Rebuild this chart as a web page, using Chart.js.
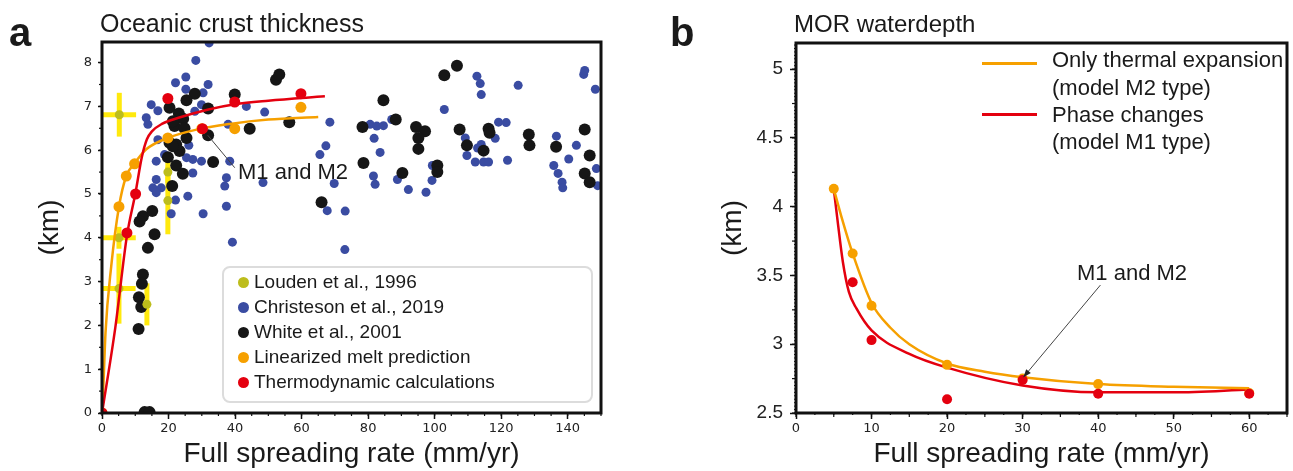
<!DOCTYPE html>
<html lang="en">
<head>
<meta charset="UTF-8">
<title>Oceanic crust thickness and MOR waterdepth</title>
<script src="https://cdn.jsdelivr.net/npm/chart.js"></script>
<style>
  html, body { margin: 0; padding: 0; background: #fff; }
  body {
    width: 1293px; height: 471px; position: relative; overflow: hidden;
    font-family: 'Liberation Sans', Arial, sans-serif; color: #1a1a1a;
  }
  canvas { position: absolute; top: 0; }
  #chartA { left: 0; }
  #chartB { left: 650px; }
  .lbl { position: absolute; white-space: nowrap; line-height: 1; }
  .letter { font-weight: bold; font-size: 40px; }
  .title { font-size: 24px; }
  .note { font-size: 22px; }
  .legA {
    position: absolute; left: 222px; top: 266px; width: 367px; height: 133px;
    border: 2px solid #dcdcdc; border-radius: 8px; background: rgba(255,255,255,0.9);
  }
  .legA .row { position: absolute; left: 0; height: 20px; font-size: 19px; line-height: 20px; white-space: nowrap; }
  .legA .dot { position: absolute; left: 14px; top: 5px; width: 11px; height: 11px; border-radius: 50%; }
  .legA .txt { position: absolute; left: 30px; top: 0; }
  .legB .swatch { position: absolute; left: 982px; width: 55px; height: 3px; }
  .legB .lbl { left: 1052px; font-size: 22px; }
</style>
</head>
<body>
<canvas id="chartA" width="645" height="471"></canvas>
<canvas id="chartB" width="643" height="471"></canvas>

<div class="lbl letter" style="left:9px; top:12px;">a</div>
<div class="lbl title" style="left:100px; top:11px; font-size:25px;">Oceanic crust thickness</div>
<div class="lbl letter" style="left:670px; top:12px;">b</div>
<div class="lbl title" style="left:794px; top:12px;">MOR waterdepth</div>

<div class="lbl note" style="left:238px; top:161px;">M1 and M2</div>
<div class="lbl note" style="left:1077px; top:262px;">M1 and M2</div>

<div class="legA">
  <div class="row" style="top:4px;"><span class="dot" style="background:#bdbd1c;"></span><span class="txt">Louden et al., 1996</span></div>
  <div class="row" style="top:29px;"><span class="dot" style="background:#3a4ca2;"></span><span class="txt">Christeson et al., 2019</span></div>
  <div class="row" style="top:54px;"><span class="dot" style="background:#161616;"></span><span class="txt">White et al., 2001</span></div>
  <div class="row" style="top:79px;"><span class="dot" style="background:#f6a000;"></span><span class="txt">Linearized melt prediction</span></div>
  <div class="row" style="top:104px;"><span class="dot" style="background:#e4000f;"></span><span class="txt">Thermodynamic calculations</span></div>
</div>

<div class="legB">
  <div class="swatch" style="top:62px; background:#f6a000;"></div>
  <div class="lbl" style="top:49px;">Only thermal expansion</div>
  <div class="lbl" style="top:77px;">(model M2 type)</div>
  <div class="swatch" style="top:113px; background:#e4000f;"></div>
  <div class="lbl" style="top:104px;">Phase changes</div>
  <div class="lbl" style="top:131px;">(model M1 type)</div>
</div>

<script>
// ---------- panel a: crust thickness (km) vs full spreading rate (mm/yr) ----------
const chrX = [32.2, 28.2, 25.2, 22.1, 31.9, 25.2, 30.4, 14.8, 16.8, 13.3, 13.8, 29.9, 43.4, 48.9, 27.9,
  37.9, 16.8, 18.8, 16.3, 25.4, 27.3, 29.9, 38.4, 27.3, 16.3, 37.4, 36.9, 48.4, 15.3, 17.8,
  16.3, 25.8, 22.1, 37.4, 30.4, 20.8, 39.2, 68.5, 67.3, 65.5, 69.8, 67.7, 73.1, 73.0, 80.6,
  82.6, 84.6, 87.1, 81.8, 83.6, 81.6, 82.1, 88.8, 92.1, 97.4, 99.2, 99.3, 112.7, 113.7, 114.0,
  125.1, 102.9, 144.8, 145.1, 148.3, 119.2, 121.5, 118.2, 109.2, 114.0, 112.9, 109.7, 112.2, 114.7, 116.2,
  121.9, 136.6, 142.6, 140.3, 135.8, 137.1, 138.3, 138.5, 148.6, 149.0, 26.1];
const chrY = [8.45, 8.05, 7.67, 7.54, 7.50, 7.39, 7.31, 7.04, 6.90, 6.74, 6.59, 7.04, 7.00, 6.87, 6.89,
  6.59, 6.24, 5.90, 5.75, 5.83, 5.79, 5.75, 5.75, 5.48, 5.33, 5.37, 5.18, 5.26, 5.14, 5.14,
  5.03, 4.95, 4.86, 4.72, 4.55, 4.55, 3.90, 6.64, 6.10, 5.90, 5.24, 4.62, 4.61, 3.73, 6.59,
  6.55, 6.56, 6.70, 6.27, 5.95, 5.41, 5.22, 5.33, 5.10, 5.04, 5.31, 5.65, 7.69, 7.52, 7.27,
  7.48, 6.93, 7.73, 7.82, 7.39, 6.64, 6.63, 6.27, 6.28, 6.13, 6.05, 5.88, 5.73, 5.73, 5.73,
  5.77, 6.32, 6.11, 5.80, 5.65, 5.47, 5.27, 5.14, 5.58, 5.19, 6.11];

const whiX = [27.9, 39.9, 25.4, 20.3, 23.1, 31.9, 44.4, 24.4, 21.8, 24.8, 31.9, 25.4, 20.3, 22.3, 23.3,
  19.8, 33.4, 22.3, 24.3, 21.1, 12.3, 11.3, 15.1, 21.3, 21.3, 15.8, 13.8, 12.3, 12.0, 11.1,
  11.8, 11.0, 12.8, 14.3, 52.3, 53.3, 56.3, 84.6, 88.3, 78.3, 94.4, 97.1, 95.1, 95.1, 78.6,
  90.3, 66.0, 106.7, 102.9, 107.5, 116.2, 116.5, 109.7, 114.7, 100.8, 100.8, 128.3, 128.5, 136.5, 145.1,
  146.6, 145.1, 146.6];
const whiY = [7.29, 7.27, 7.14, 6.97, 6.84, 6.95, 6.49, 6.72, 6.55, 6.50, 6.34, 6.28, 6.17, 6.13, 5.98,
  5.84, 5.73, 5.65, 5.46, 5.18, 4.49, 4.37, 4.61, 6.66, 6.09, 4.08, 3.77, 3.16, 2.95, 2.64,
  2.42, 1.92, 0.02, 0.02, 7.61, 7.73, 6.64, 7.14, 6.70, 6.53, 6.53, 6.43, 6.28, 6.03, 5.71,
  5.48, 4.81, 7.93, 7.71, 6.47, 6.49, 6.40, 6.11, 5.99, 5.65, 5.50, 6.36, 6.11, 6.08, 6.47,
  5.88, 5.47, 5.27];

const louX = [5.2, 19.8, 19.8, 5.1, 5.1, 13.5];
const louY = [6.81, 5.50, 4.85, 4.00, 2.84, 2.48];
const louXErr = [5.05, 0, 0, 5.05, 5.0, 0];
const louYErr = [0.50, 0.25, 0.77, 0.25, 0.80, 0.48];

const linPtX = [0, 5.1, 7.3, 9.8, 19.8, 30, 39.9, 59.8];
const linPtY = [0, 4.71, 5.41, 5.69, 6.28, 6.49, 6.49, 6.98];
const thmPtX = [0, 7.5, 10.1, 19.8, 30.2, 39.9, 59.8];
const thmPtY = [0, 4.11, 5.00, 7.18, 6.49, 7.10, 7.29];

const linCurveX = [0, 0.45, 1.05, 2.77, 5.1, 7.3, 9.8, 13.3, 19.8, 28.4, 38.4, 50, 65];
const linCurveY = [0, 0.69, 1.83, 3.35, 4.71, 5.41, 5.70, 6.02, 6.28, 6.47, 6.60, 6.70, 6.76];
const thmCurveX = [0, 4, 7.5, 10, 12, 13.5, 15, 18, 23, 32, 40, 50, 67];
const thmCurveY = [0, 1.95, 4.05, 5.00, 5.85, 6.25, 6.43, 6.60, 6.74, 6.93, 7.05, 7.13, 7.23];

// ---------- panel b: MOR water depth (km) vs full spreading rate ----------
const mbOrangeX = [5, 7.5, 10, 20, 30, 40, 60];
const mbOrangeY = [4.13, 3.66, 3.28, 2.85, 2.75, 2.71, 2.645];
const mbRedX = [7.5, 10, 20, 30, 40, 60];
const mbRedY = [3.45, 3.03, 2.60, 2.74, 2.64, 2.64];
const mbOrangeCurveX = [5, 6, 7.5, 10, 12.5, 15, 20, 25, 30, 40, 50, 60];
const mbOrangeCurveY = [4.13, 3.93, 3.66, 3.30, 3.12, 3.00, 2.86, 2.80, 2.76, 2.71, 2.69, 2.68];
const mbRedCurveX = [5, 5.5, 6.2, 7, 8, 10, 15, 20, 30, 40, 50, 60];
const mbRedCurveY = [4.13, 3.90, 3.60, 3.38, 3.26, 3.10, 2.93, 2.83, 2.70, 2.65, 2.65, 2.67];

const ORANGE = '#f6a000';
const RED = '#e4000f';
const BLUE = '#3a4ca2';
const BLACK = '#161616';
const OLIVE = '#bdbd1c';
const SANS = "'Liberation Sans', Arial, sans-serif";
const DEJAVU = "'DejaVu Sans', sans-serif";

const toPts = (xs, ys) => xs.map((x, i) => ({ x: x, y: ys[i] }));

// frame, minor ticks, error bars and annotation lines
const framePlugin = {
  id: 'frame',
  beforeDatasetsDraw(chart, args, opts) {
    const e = opts.errors;
    if (!e) return;
    const { ctx, scales: { x, y } } = chart;
    const a = chart.chartArea;
    ctx.save();
    ctx.beginPath();
    ctx.rect(a.left, a.top, a.right - a.left, a.bottom - a.top);
    ctx.clip();
    ctx.strokeStyle = e.color;
    ctx.lineWidth = e.width;
    e.x.forEach((xv, i) => {
      const px = x.getPixelForValue(xv), py = y.getPixelForValue(e.y[i]);
      if (e.xe[i]) {
        ctx.beginPath();
        ctx.moveTo(x.getPixelForValue(xv - e.xe[i]), py);
        ctx.lineTo(x.getPixelForValue(xv + e.xe[i]), py);
        ctx.stroke();
      }
      if (e.ye[i]) {
        ctx.beginPath();
        ctx.moveTo(px, y.getPixelForValue(e.y[i] - e.ye[i]));
        ctx.lineTo(px, y.getPixelForValue(e.y[i] + e.ye[i]));
        ctx.stroke();
      }
    });
    ctx.restore();
  },
  afterDraw(chart, args, opts) {
    const { ctx, scales: { x, y } } = chart;
    const a = chart.chartArea;
    ctx.save();
    ctx.strokeStyle = '#111';
    (opts.minor || []).forEach(m => {
      const sc = m.axis === 'x' ? x : y;
      const n = Math.floor((sc.max - sc.min) / m.step + 1e-6);
      ctx.lineWidth = m.width || 1.2;
      for (let i = 0; i <= n; i++) {
        const p = sc.getPixelForValue(sc.min + i * m.step);
        ctx.beginPath();
        if (m.axis === 'x') { ctx.moveTo(p, a.bottom); ctx.lineTo(p, a.bottom + m.len); }
        else { ctx.moveTo(a.left, p); ctx.lineTo(a.left - m.len, p); }
        ctx.stroke();
      }
    });
    (opts.notes || []).forEach(n => {
      const x1 = x.getPixelForValue(n.x1), y1 = y.getPixelForValue(n.y1);
      const x2 = x.getPixelForValue(n.x2), y2 = y.getPixelForValue(n.y2);
      ctx.strokeStyle = '#444';
      ctx.lineWidth = 1;
      ctx.beginPath();
      ctx.moveTo(x1, y1);
      ctx.lineTo(x2, y2);
      ctx.stroke();
      if (n.arrow) {
        const ang = Math.atan2(y2 - y1, x2 - x1);
        ctx.fillStyle = '#222';
        ctx.beginPath();
        ctx.moveTo(x2, y2);
        ctx.lineTo(x2 - 8 * Math.cos(ang) + 3 * Math.sin(ang), y2 - 8 * Math.sin(ang) - 3 * Math.cos(ang));
        ctx.lineTo(x2 - 8 * Math.cos(ang) - 3 * Math.sin(ang), y2 - 8 * Math.sin(ang) + 3 * Math.cos(ang));
        ctx.closePath();
        ctx.fill();
      }
    });
    ctx.strokeStyle = '#111';
    ctx.lineWidth = 3;
    ctx.strokeRect(a.left, a.top, a.right - a.left, a.bottom - a.top);
    ctx.restore();
  }
};

function axisTitle(text, pad) {
  return { display: true, text: text, color: '#1a1a1a', font: { family: SANS, size: 28 }, padding: pad };
}

function tickGrid(len) {
  return { drawOnChartArea: false, drawTicks: true, tickLength: len, tickColor: '#111', tickWidth: 1.5 };
}

function curve(xs, ys, color, order) {
  return {
    type: 'line', data: toPts(xs, ys), borderColor: color, borderWidth: 2.5,
    pointRadius: 0, cubicInterpolationMode: 'monotone', fill: false, order: order
  };
}

function dots(label, xs, ys, color, r, order) {
  return {
    label: label, data: toPts(xs, ys), pointBackgroundColor: color, backgroundColor: color,
    pointBorderWidth: 0, pointRadius: r, order: order
  };
}

const plainNumber = v => String(Math.round(v * 100) / 100);

new Chart(document.getElementById('chartA'), {
  type: 'scatter',
  data: {
    datasets: [
      dots('Thermodynamic calculations', thmPtX, thmPtY, RED, 5.5, 0),
      curve(thmCurveX, thmCurveY, RED, 1),
      dots('Linearized melt prediction', linPtX, linPtY, ORANGE, 5.5, 2),
      curve(linCurveX, linCurveY, ORANGE, 3),
      dots('Louden et al., 1996', louX, louY, OLIVE, 4.5, 4),
      dots('White et al., 2001', whiX, whiY, BLACK, 6, 5),
      dots('Christeson et al., 2019', chrX, chrY, BLUE, 4.5, 6)
    ]
  },
  options: {
    responsive: false,
    animation: false,
    devicePixelRatio: 1,
    events: [],
    layout: { padding: { top: 42, right: 44, left: 0, bottom: 0 } },
    plugins: {
      legend: { display: false },
      tooltip: { enabled: false },
      frame: {
        minor: [{ axis: 'x', step: 5, len: 3 }, { axis: 'y', step: 0.5, len: 3 }],
        errors: { x: louX, y: louY, xe: louXErr, ye: louYErr, color: 'rgba(255,232,0,0.95)', width: 5 },
        notes: [{ x1: 31.8, y1: 6.34, x2: 39.9, y2: 5.6 }]
      }
    },
    scales: {
      x: {
        type: 'linear', min: 0, max: 150,
        ticks: { stepSize: 20, includeBounds: false, autoSkip: false, maxRotation: 0, padding: 2,
                 color: '#222', font: { family: DEJAVU, size: 13 } },
        grid: tickGrid(6),
        border: { display: false },
        title: axisTitle('Full spreading rate (mm/yr)', { top: 0, bottom: 0 }),
        afterFit(s) { s.height = 58; }
      },
      y: {
        type: 'linear', min: 0, max: 8.47,
        ticks: { stepSize: 1, includeBounds: false, autoSkip: false, padding: 6,
                 color: '#222', font: { family: DEJAVU, size: 13 } },
        grid: tickGrid(4),
        border: { display: false },
        title: axisTitle('(km)', { top: 33, bottom: 0 }),
        afterFit(s) { s.width = 102; }
      }
    }
  },
  plugins: [framePlugin]
});

new Chart(document.getElementById('chartB'), {
  type: 'scatter',
  data: {
    datasets: [
      dots('Phase changes', mbRedX, mbRedY, RED, 5, 0),
      dots('Only thermal expansion', mbOrangeX, mbOrangeY, ORANGE, 5, 1),
      curve(mbOrangeCurveX, mbOrangeCurveY, ORANGE, 2),
      curve(mbRedCurveX, mbRedCurveY, RED, 3)
    ]
  },
  options: {
    responsive: false,
    animation: false,
    devicePixelRatio: 1,
    events: [],
    layout: { padding: { top: 43, right: 6, left: 0, bottom: 0 } },
    plugins: {
      legend: { display: false },
      tooltip: { enabled: false },
      frame: {
        minor: [
          { axis: 'x', step: 2.5, len: 2 }, { axis: 'x', step: 5, len: 4 },
          { axis: 'y', step: 0.025, len: 2, width: 1 }, { axis: 'y', step: 0.25, len: 4 }
        ],
        notes: [{ x1: 40.3, y1: 3.43, x2: 30.1, y2: 2.76, arrow: true }]
      }
    },
    scales: {
      x: {
        type: 'linear', min: 0, max: 65,
        ticks: { stepSize: 10, includeBounds: false, autoSkip: false, maxRotation: 0, padding: 2,
                 color: '#222', font: { family: DEJAVU, size: 13 } },
        grid: tickGrid(6),
        border: { display: false },
        title: axisTitle('Full spreading rate (mm/yr)', { top: 0, bottom: 0 }),
        afterFit(s) { s.height = 58; }
      },
      y: {
        type: 'linear', min: 2.5, max: 5.19,
        ticks: { stepSize: 0.5, includeBounds: false, autoSkip: false, padding: 7,
                 color: '#222', font: { family: SANS, size: 19 }, callback: plainNumber },
        grid: tickGrid(6),
        border: { display: false },
        title: axisTitle('(km)', { top: 66, bottom: 0 }),
        afterFit(s) { s.width = 146; }
      }
    }
  },
  plugins: [framePlugin]
});
</script>
</body>
</html>
